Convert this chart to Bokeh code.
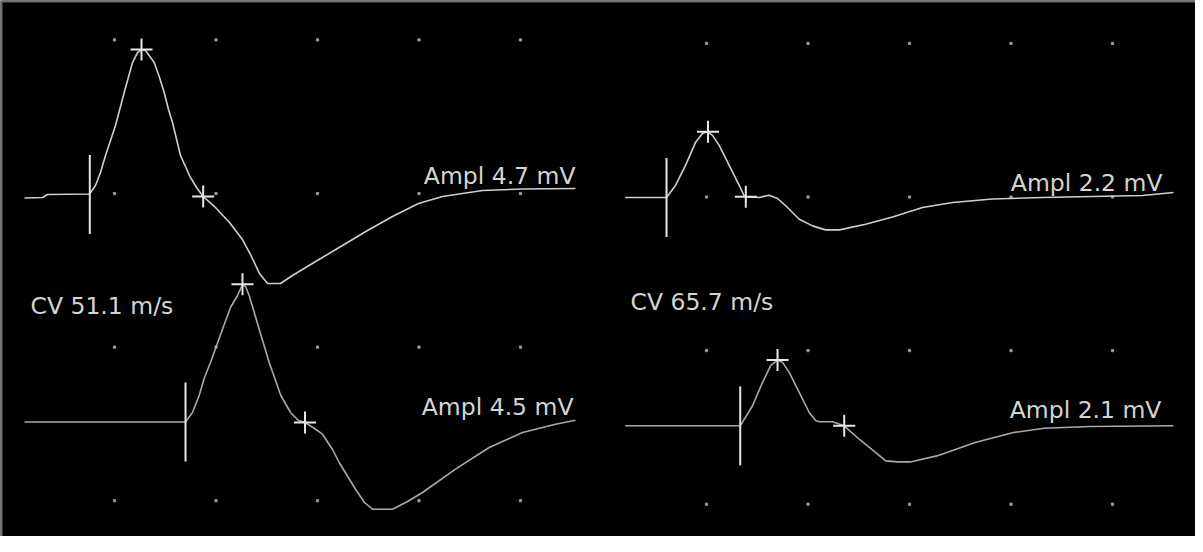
import math
from bokeh.plotting import figure
from bokeh.models import ColumnDataSource, Range1d, Span
from bokeh.core.properties import value
from bokeh.embed import file_html
from bokeh.resources import INLINE

# ---------------- data (time in ms, amplitude in mV relative to trace baseline) -------------
# Left panel, upper trace (Ampl 4.7 mV)
t1 = [0.567, 1.453, 1.700, 3.768, 4.064, 4.310, 4.557, 4.803, 5.049, 5.478, 5.887, 6.133, 6.330,
      6.527, 6.956, 7.217, 7.448, 7.660, 7.857, 8.251, 8.695, 9.039, 9.369, 9.926, 10.665, 11.305,
      11.700, 12.143, 12.537, 13.177, 13.768, 14.990, 16.232, 17.463, 18.695, 19.975, 21.158,
      23.128, 25.099, 27.709]
v1 = [-0.114, -0.098, 0.0, 0.016, 0.293, 0.716, 1.270, 1.758, 2.246, 3.320, 4.297, 4.622, 4.720,
      4.688, 4.297, 3.809, 3.320, 2.767, 2.344, 1.270, 0.618, 0.228, -0.065, -0.391, -0.911, -1.465,
      -1.953, -2.572, -2.897, -2.897, -2.637, -2.148, -1.660, -1.172, -0.716, -0.293, -0.065,
      0.130, 0.179, 0.195]
# Left panel, lower trace (Ampl 4.5 mV)
t2 = [0.567, 8.498, 8.842, 9.172, 9.433, 9.729, 10.320, 10.714, 11.059, 11.305, 11.453, 11.635,
      12.128, 12.621, 13.192, 13.670, 14.064, 14.384, 14.852, 15.246, 15.739, 16.069, 16.872,
      17.315, 17.709, 18.695, 19.433, 20.172, 21.798, 23.458, 25.099, 26.724, 27.709]
v2 = [0.0, 0.0, 0.309, 0.863, 1.449, 1.937, 3.021, 3.727, 4.118, 4.476, 4.411, 4.118,
      3.021, 1.937, 0.863, 0.309, 0.049, -0.016, -0.212, -0.397, -0.895, -1.318, -2.188,
      -2.620, -2.839, -2.839, -2.588, -2.295, -1.536, -0.830, -0.342, -0.072, 0.059]
# Right panel, upper trace (Ampl 2.2 mV)
t3 = [0.995, 3.030, 3.473, 3.966, 4.458, 4.803, 5.049, 5.296, 5.626, 6.118, 6.611, 6.872, 7.596,
      8.089, 8.498, 8.892, 9.567, 10.222, 10.862, 11.552, 12.833, 14.163, 15.640, 17.118, 19.089,
      21.552, 24.015, 26.478, 28.005]
v3 = [0.0, 0.0, 0.392, 1.044, 1.794, 2.088, 2.137, 2.023, 1.697, 1.044, 0.392, 0.033, 0.0,
      0.075, -0.033, -0.261, -0.708, -0.923, -1.054, -1.054, -0.871, -0.636, -0.326, -0.163, -0.049,
      0.0, 0.033, 0.065, 0.163]
# Right panel, lower trace (Ampl 2.1 mV)
t4 = [0.995, 6.660, 7.266, 7.759, 8.167, 8.498, 8.744, 9.074, 9.567, 10.059, 10.384, 10.567,
      11.207, 11.783, 12.522, 13.340, 13.833, 14.409, 15.030, 16.350, 18.236, 20.123, 21.631,
      23.892, 28.005]
v4 = [0.0, 0.0, 0.653, 1.413, 1.967, 2.140, 2.065, 1.739, 1.086, 0.434, 0.163, 0.131,
      0.131, 0.0, -0.437, -0.871, -1.142, -1.175, -1.175, -0.979, -0.545, -0.219, -0.078,
      -0.023, 0.0]

# cursor marks per trace: onset time, (peak time, peak amp), (negative-onset time, amp)
onset_t = [3.783, 8.498, 3.030, 6.660]
peak_t = [6.330, 11.305, 5.074, 8.498]
peak_v = [4.72, 4.486, 2.144, 2.140]
neg_t = [9.369, 14.384, 6.936, 11.783]
neg_v = [-0.065, -0.016, 0.023, 0.0]

ampl_labels = ["Ampl 4.7 mV", "Ampl 4.5 mV", "Ampl 2.2 mV", "Ampl 2.1 mV"]
cv_labels = ["CV 51.1 m/s", "CV 65.7 m/s"]

grid_t = [5, 10, 15, 20, 25]          # ms (5 ms / div)
grid_v = [5, 0, -5, -10]              # mV (5 mV / div)

# ---------------- layout (positions in the panels' own units) ----------------
BG = "#000000"
EDGE = "#6c6c6c"
TRACE_HI = "#cfcfcf"
TRACE_LO = "#a9a9a9"
MARK = "#e6e6e6"
TEXT = "#d4d4d4"
FONT = value("DejaVu Sans")
FSIZE = "23.5px"
W, H = 1195, 536
XR = (-0.616, 58.251)
YR = (-11.165, 6.283)

panels = [
    dict(ox=0.0, oy=0.0, bases=[-0.033, -7.438], traces=[(t1, v1), (t2, v2)], idx=[0, 1],
         ampl_x=[27.709, 27.61], ampl_y=[0.586, -6.934], cv_x=0.862, cv_y=-3.646, cv=0),
    dict(ox=29.163, oy=-0.114, bases=[-0.016, -7.448], traces=[(t3, v3), (t4, v4)], idx=[2, 3],
         ampl_x=[27.463, 27.41], ampl_y=[0.472, -6.917], cv_x=1.256, cv_y=-3.402, cv=1),
]

p = figure(width=W, height=H, output_backend="svg", toolbar_location=None,
           x_range=Range1d(*XR), y_range=Range1d(*YR),
           min_border_left=0, min_border_top=0, min_border_right=0, min_border_bottom=0,
           background_fill_color=BG, border_fill_color=BG)
p.axis.visible = False
p.grid.visible = False
p.outline_line_color = None

# grey screen edge at top and left, 2 px wide
dy = (YR[1] - YR[0]) / H
dx = (XR[1] - XR[0]) / W
p.add_layout(Span(location=YR[1] - dy, dimension="width", line_color=EDGE, line_width=2))
p.add_layout(Span(location=XR[0] + dx, dimension="height", line_color=EDGE, line_width=2))

for pn in panels:
    ox, oy = pn["ox"], pn["oy"]
    # grid dots
    gx = [t + ox for v in grid_v for t in grid_t]
    gy = [v + oy for v in grid_v for t in grid_t]
    p.scatter(gx, gy, size=2.2, color="#9c9c9c", marker="square")

    for k, ((tt, vv), base, i) in enumerate(zip(pn["traces"], pn["bases"], pn["idx"])):
        col = TRACE_HI if k == 0 else TRACE_LO
        b = base + oy
        p.line([t + ox for t in tt], [v + b for v in vv], line_color=col, line_width=1.6)
        # onset cursor (vertical bar)
        p.scatter([onset_t[i] + ox], [b], marker="dash", angle=math.pi / 2, size=79,
                  line_color=MARK, line_width=2)
        # peak and negative-onset cursors
        p.scatter([peak_t[i] + ox, neg_t[i] + ox], [peak_v[i] + b, neg_v[i] + b],
                  marker="cross", size=22, line_color=MARK, line_width=2)

    src = ColumnDataSource(dict(x=[x + ox for x in pn["ampl_x"]], y=[y + oy for y in pn["ampl_y"]],
                                text=[ampl_labels[i] for i in pn["idx"]]))
    p.text(x="x", y="y", text="text", source=src, text_align="right", text_baseline="alphabetic",
           text_font=FONT, text_font_size=FSIZE, text_color=TEXT)
    p.text(x=[pn["cv_x"] + ox], y=[pn["cv_y"] + oy], text=[cv_labels[pn["cv"]]],
           text_align="left", text_baseline="alphabetic", text_font=FONT, text_font_size=FSIZE,
           text_color=TEXT)

open("out.html", "w").write(file_html(p, INLINE))
